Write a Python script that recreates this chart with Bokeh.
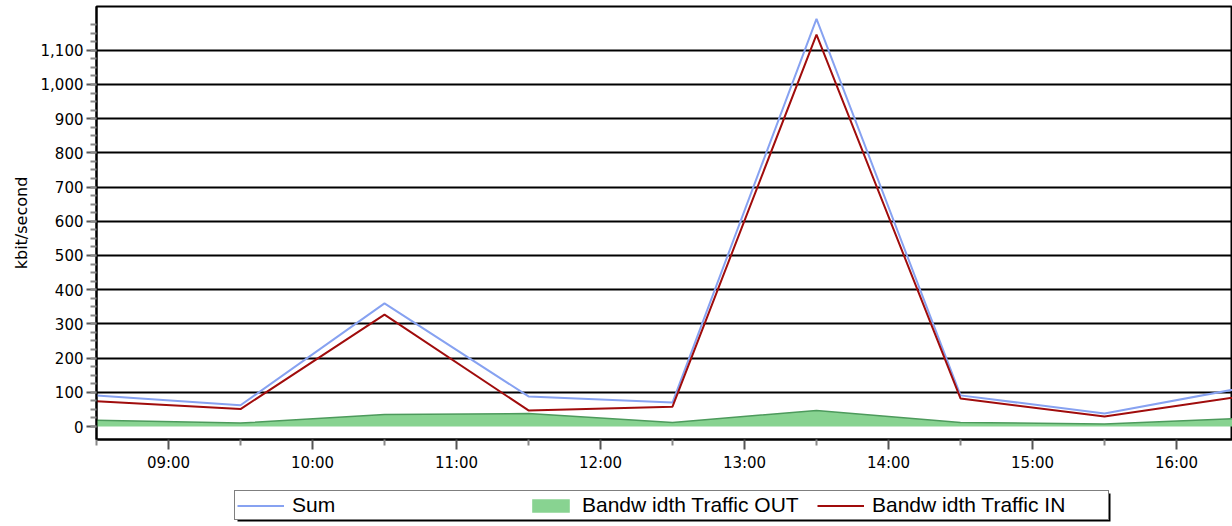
import pandas as pd
from bokeh.plotting import figure
from bokeh.layouts import column
from bokeh.models import (ColumnDataSource, FixedTicker, DatetimeTickFormatter,
                          Legend, LegendItem, Range1d, NumeralTickFormatter,
                          BoxAnnotation)
from bokeh.embed import file_html
from bokeh.resources import INLINE

# ---- data ----
times = ["2024-01-01 08:30", "2024-01-01 09:30", "2024-01-01 10:30",
         "2024-01-01 11:30", "2024-01-01 12:30", "2024-01-01 13:30",
         "2024-01-01 14:30", "2024-01-01 15:30", "2024-01-01 16:30"]
sum_kbit = [91, 62, 360, 88, 70, 1192, 91, 38, 116]
in_kbit = [74, 51, 327, 47, 58, 1146, 82, 29, 91]
out_kbit = [18, 10, 35, 38, 12, 47, 12, 7, 25]

hour_ticks = ["2024-01-01 09:00", "2024-01-01 10:00", "2024-01-01 11:00",
              "2024-01-01 12:00", "2024-01-01 13:00", "2024-01-01 14:00",
              "2024-01-01 15:00", "2024-01-01 16:00"]
half_ticks = ["2024-01-01 08:30", "2024-01-01 09:30", "2024-01-01 10:30",
              "2024-01-01 11:30", "2024-01-01 12:30", "2024-01-01 13:30",
              "2024-01-01 14:30", "2024-01-01 15:30", "2024-01-01 16:30"]
y_major = [0, 100, 200, 300, 400, 500, 600, 700, 800, 900, 1000, 1100]
y_minor = list(range(0, 1200, 25))
grid_vals = y_major[1:]

x_start = "2024-01-01 08:30:00"
x_end = "2024-01-01 16:23:20"
y_start, y_end = -38, 1228

labels = ["Sum", "Bandw idth Traffic OUT", "Bandw idth Traffic IN"]

SUM_COLOR = "#87a2f1"
IN_COLOR = "#a00c0c"
OUT_FILL = "#88d391"
OUT_LINE = "#4d9a5c"


def to_ms(seq):
    return [int(v) for v in (pd.to_datetime(seq).astype("int64") // 10**6)]


src = ColumnDataSource(data=dict(t=pd.to_datetime(times), s=sum_kbit,
                                 i=in_kbit, o=out_kbit, z=[0] * len(times)))

p = figure(width=1232, height=490, x_axis_type="datetime",
           output_backend="svg", toolbar_location=None,
           x_range=Range1d(pd.Timestamp(x_start), pd.Timestamp(x_end)),
           y_range=Range1d(y_start, y_end),
           min_border_left=96, min_border_right=0, min_border_top=6,
           min_border_bottom=51)

p.background_fill_color = "white"
p.border_fill_color = "white"
p.outline_line_color = "black"
p.outline_line_width = 2

# grid
p.xgrid.visible = False
p.ygrid.ticker = FixedTicker(ticks=grid_vals)
p.ygrid.grid_line_color = "black"
p.ygrid.grid_line_width = 2

# areas and lines
p.varea(x="t", y1="z", y2="o", source=src, fill_color=OUT_FILL)
p.line(x="t", y="o", source=src, line_color=OUT_LINE, line_width=1.5)
p.line(x="t", y="s", source=src, line_color=SUM_COLOR, line_width=2)
p.line(x="t", y="i", source=src, line_color=IN_COLOR, line_width=2)

# axes
p.xaxis.ticker = FixedTicker(ticks=to_ms(hour_ticks), minor_ticks=to_ms(half_ticks))
p.xaxis.formatter = DatetimeTickFormatter(hours="%H:%M", hourmin="%H:%M",
                                          minutes="%H:%M", days="%H:%M")
p.yaxis.ticker = FixedTicker(ticks=y_major, minor_ticks=y_minor)
p.yaxis.formatter = NumeralTickFormatter(format="0,0")
p.yaxis.axis_label = "kbit/second"

for ax in (p.xaxis[0], p.yaxis[0]):
    ax.axis_line_color = "black"
    ax.axis_line_width = 2
    ax.major_tick_line_color = "#555555"
    ax.major_tick_line_width = 2
    ax.major_tick_in = 0
    ax.major_tick_out = 10
    ax.minor_tick_line_color = "#888888"
    ax.minor_tick_line_width = 2
    ax.minor_tick_in = 0
    ax.minor_tick_out = 6
    ax.major_label_text_font = "DejaVu Sans"
    ax.major_label_text_font_size = "15px"
    ax.major_label_text_color = "black"

p.xaxis.major_label_standoff = 4
p.yaxis.major_label_standoff = 3
p.yaxis.axis_label_text_font = "DejaVu Sans"
p.yaxis.axis_label_text_font_size = "16px"
p.yaxis.axis_label_text_font_style = "normal"
p.yaxis.axis_label_text_color = "black"
p.yaxis.axis_label_standoff = 7

# ---- legend strip below the chart (same series, drawn out of view) ----
q = figure(width=1232, height=36, output_backend="svg", toolbar_location=None,
           x_axis_type="datetime", x_range=p.x_range,
           y_range=Range1d(100000, 200000),
           x_axis_location=None, y_axis_location=None,
           min_border_left=0, min_border_right=0, min_border_top=0,
           min_border_bottom=0)
q.grid.visible = False
q.outline_line_color = None
q.background_fill_color = "white"
q.border_fill_color = "white"
g_out = q.varea(x="t", y1="z", y2="o", source=src, fill_color=OUT_FILL)
g_sum = q.line(x="t", y="s", source=src, line_color=SUM_COLOR, line_width=2)
g_in = q.line(x="t", y="i", source=src, line_color=IN_COLOR, line_width=2)

shadow = BoxAnnotation(left=141, right=1014, top=5, bottom=33,
                       left_units="screen", right_units="screen",
                       top_units="screen", bottom_units="screen",
                       fill_color="black", fill_alpha=1.0, line_color=None,
                       level="annotation")
q.add_layout(shadow)

legend = Legend(items=[LegendItem(label=labels[0], renderers=[g_sum]),
                       LegendItem(label=labels[1], renderers=[g_out]),
                       LegendItem(label=labels[2], renderers=[g_in])],
                orientation="horizontal", location=(138, 6),
                padding=2, spacing=1, glyph_width=47, glyph_height=17,
                label_standoff=8, label_width=234, margin=0,
                label_text_font="Liberation Sans", label_text_font_size="21px",
                label_text_color="black",
                border_line_color="black", border_line_width=1.5,
                background_fill_color="white", background_fill_alpha=1.0)
q.add_layout(legend)

open("out.html", "w").write(file_html(column(p, q, spacing=0), INLINE))
